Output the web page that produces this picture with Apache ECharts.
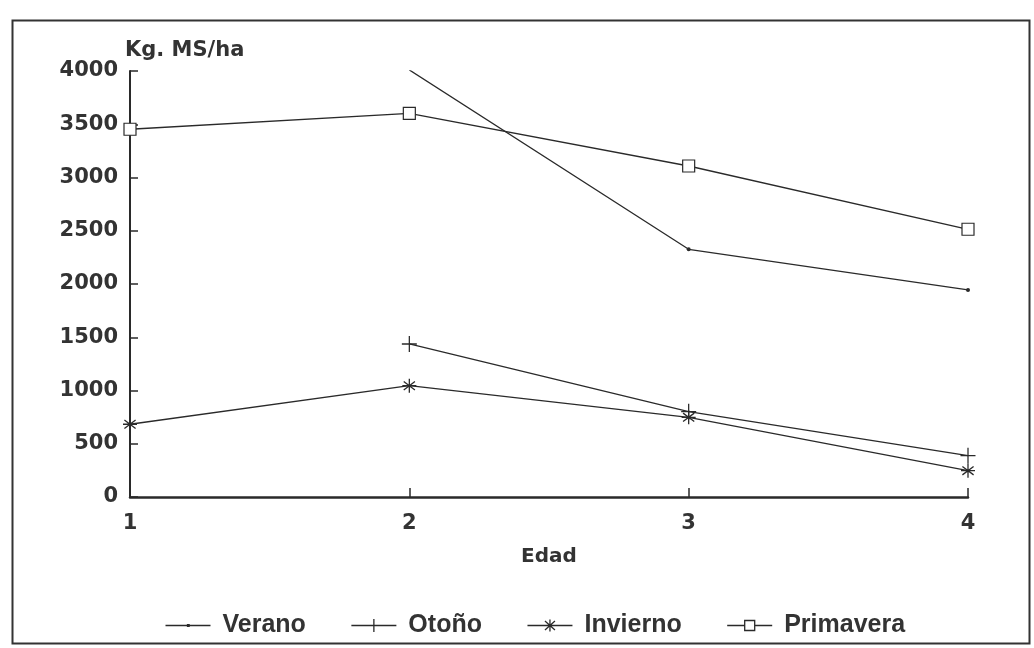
<!DOCTYPE html>
<html><head><meta charset="utf-8">
<script src="https://cdn.jsdelivr.net/npm/echarts@6/dist/echarts.min.js"></script>
<style>html,body{margin:0;padding:0;background:#fff}#c{width:1034px;height:648px}</style>
</head><body><div id="c"></div>
<script>
const edad = [1, 2, 3, 4];
const verano = [null, 4010, 2326, 1944];
const otono = [null, 1437, 801, 388];
const invierno = [683, 1045, 748, 247];
const primavera = [3453, 3603, 3108, 2514];
const yTicks = [0, 500, 1000, 1500, 2000, 2500, 3000, 3500, 4000];
const seriesNames = ['Verano', 'Otoño', 'Invierno', 'Primavera'];

const toPairs = vals => edad.map((x, i) => [x, vals[i]]).filter(p => p[1] !== null);
const ink = '#2a2a2a';
const txt = '#333';
const wideFont = "'DejaVu Sans', Verdana, sans-serif";
const legFont = "'Liberation Sans', Arial, sans-serif";
const lineStyle = { color: ink, width: 1.3 };
const markStyle = { color: 'none', borderColor: ink, borderWidth: 1.3 };

const icons = {
  'Verano': 'path://M0,0 M0,14 M0,7 L45,7 M22,6.2 L23.6,6.2 L23.6,7.8 L22,7.8 Z',
  'Otoño': 'path://M0,0 M0,14 M0,7 L45,7 M22.5,0.5 L22.5,13.5',
  'Invierno': 'path://M0,0 M0,14 M0,7 L45,7 M22.5,1 L22.5,13 M17.5,2.5 L27.5,11.5 M27.5,2.5 L17.5,11.5',
  'Primavera': 'path://M0,0 M0,14 M0,7 L17.5,7 M17.5,2 L27.5,2 L27.5,12 L17.5,12 Z M27.5,7 L45,7'
};

const chart = echarts.init(document.getElementById('c'), null, { renderer: 'canvas' });
chart.setOption({
  backgroundColor: '#fff',
  animation: false,
  graphic: [{
    type: 'rect', left: 10, top: 18, shape: { width: 1017, height: 623 },
    style: { fill: 'none', stroke: '#333', lineWidth: 2 }, silent: true
  }],
  grid: { left: 130, right: 66, top: 71, bottom: 151 },
  xAxis: {
    type: 'value', min: 1, max: 4, interval: 1,
    name: 'Edad', nameLocation: 'middle', nameGap: 50,
    nameTextStyle: { fontFamily: wideFont, fontSize: 20, fontWeight: 'bold', color: txt },
    axisLine: { lineStyle: { color: ink, width: 2.5 } },
    axisTick: { inside: true, length: 9, lineStyle: { color: ink, width: 1.5 } },
    axisLabel: { fontFamily: wideFont, fontSize: 21, fontWeight: 'bold', color: txt, margin: 16 },
    splitLine: { show: false }
  },
  yAxis: {
    type: 'value', min: yTicks[0], max: yTicks[yTicks.length - 1], interval: 500,
    name: 'Kg. MS/ha', nameLocation: 'end', nameGap: 10,
    nameTextStyle: { fontFamily: wideFont, fontSize: 21, fontWeight: 'bold', color: txt, align: 'left', padding: [0, 0, 0, -5] },
    axisLine: { show: true, lineStyle: { color: ink, width: 2 } },
    axisTick: { show: true, inside: true, length: 8, lineStyle: { color: ink, width: 1.5 } },
    axisLabel: { fontFamily: wideFont, fontSize: 21, fontWeight: 'bold', color: txt, margin: 12,
      formatter: v => String(v) },
    splitLine: { show: false }
  },
  legend: {
    left: 158, top: 608, itemGap: 43, itemWidth: 45, itemHeight: 14,
    textStyle: { fontFamily: legFont, fontSize: 25, fontWeight: 'bold', color: txt, padding: [0, 0, 0, 7] },
    data: seriesNames.map(n => ({ name: n, icon: icons[n], itemStyle: markStyle }))
  },
  series: [
    { name: seriesNames[0], type: 'line', data: toPairs(verano), symbol: 'circle', symbolSize: 4,
      itemStyle: { color: ink }, lineStyle },
    { name: seriesNames[1], type: 'line', data: toPairs(otono),
      symbol: 'path://M0,5 L10,5 M5,0 L5,10', symbolSize: [15, 16],
      itemStyle: markStyle, lineStyle },
    { name: seriesNames[2], type: 'line', data: toPairs(invierno),
      symbol: 'path://M5,0 L5,10 M1,2 L9,8 M9,2 L1,8 M0,5 L10,5', symbolSize: [14, 14],
      itemStyle: markStyle, lineStyle },
    { name: seriesNames[3], type: 'line', data: toPairs(primavera), symbol: 'rect', symbolSize: 12,
      itemStyle: { color: '#fff', borderColor: ink, borderWidth: 1.2 }, lineStyle }
  ]
});
</script></body></html>
